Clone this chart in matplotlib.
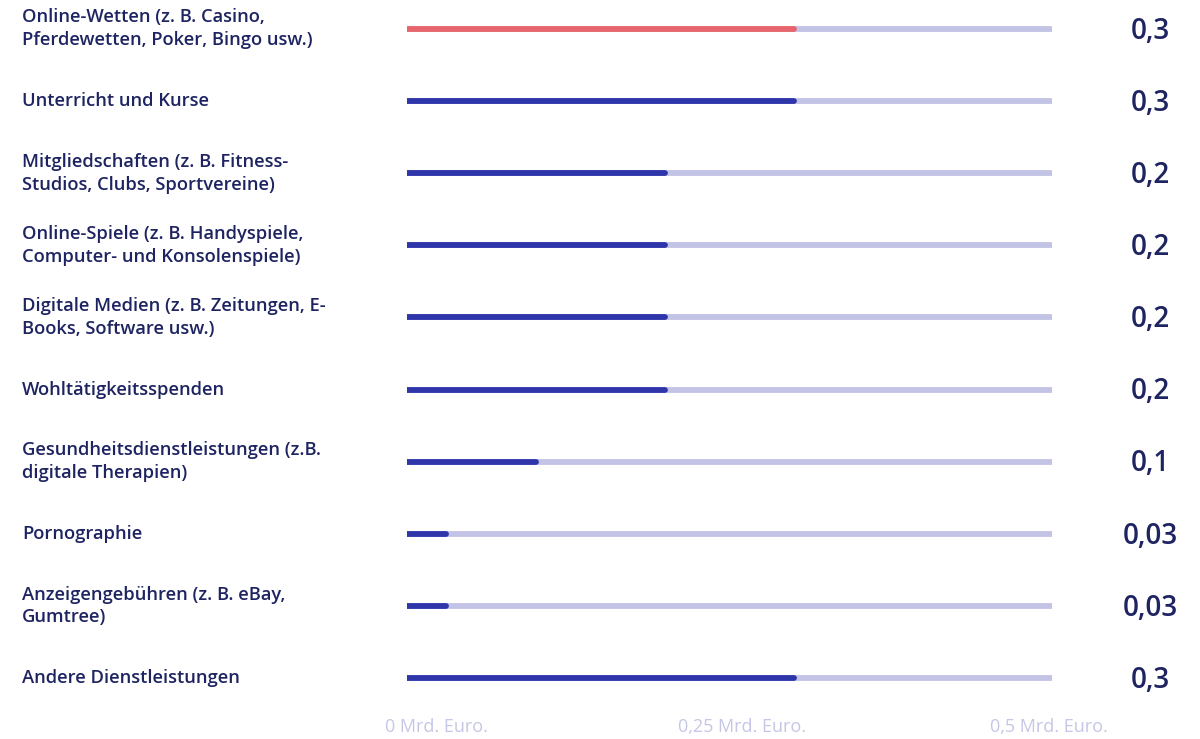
import matplotlib
matplotlib.use('Agg')
import matplotlib.pyplot as plt
from matplotlib.transforms import blended_transform_factory

plt.rcParams['font.family'] = ['Open Sans', 'DejaVu Sans']

categories = [
    'Online-Wetten (z. B. Casino,\nPferdewetten, Poker, Bingo usw.)',
    'Unterricht und Kurse',
    'Mitgliedschaften (z. B. Fitness-\nStudios, Clubs, Sportvereine)',
    'Online-Spiele (z. B. Handyspiele,\nComputer- und Konsolenspiele)',
    'Digitale Medien (z. B. Zeitungen, E-\nBooks, Software usw.)',
    'Wohltätigkeitsspenden',
    'Gesundheitsdienstleistungen (z.B.\ndigitale Therapien)',
    'Pornographie',
    'Anzeigengebühren (z. B. eBay,\nGumtree)',
    'Andere Dienstleistungen',
]
values = [0.3, 0.3, 0.2, 0.2, 0.2, 0.2, 0.1, 0.03, 0.03, 0.3]
value_labels = ['0,3', '0,3', '0,2', '0,2', '0,2', '0,2', '0,1', '0,03', '0,03', '0,3']
axis_max = 0.5
tick_values = [0, 0.25, 0.5]
tick_labels = ['0 Mrd. Euro.', '0,25 Mrd. Euro.', '0,5 Mrd. Euro.']
highlight = 0

navy = '#1e2461'
track = '#c3c3e5'
bar_blue = '#2f36a9'
bar_red = '#e8656d'

fig = plt.figure(figsize=(12, 7.39), dpi=100)
ax = fig.add_axes([0.339, 0.0433, 0.5375, 0.9567])
ax.set_xlim(0, axis_max)
ax.set_ylim(len(values) - 1 + 0.4, -0.4)
ax.axis('off')

for i, (cat, v, lab) in enumerate(zip(categories, values, value_labels)):
    # grey track for the full scale, coloured bar on top
    ax.plot([0, axis_max], [i, i], color=track, lw=4.2, solid_capstyle='round', zorder=1)
    ax.plot([0, v], [i, i], color=bar_red if i == highlight else bar_blue,
            lw=4.2, solid_capstyle='round', zorder=2)
    ax.annotate(cat, xy=(0.0183, i), xycoords=('figure fraction', 'data'),
                ha='left', va='center', fontsize=13.2, color=navy, linespacing=1.35,
                fontweight='semibold', annotation_clip=False)
    ax.annotate(lab, xy=(0.9585, i + 0.03), xycoords=('figure fraction', 'data'),
                ha='center', va='center', fontsize=20, color=navy,
                fontweight='semibold', annotation_clip=False)

tick_tr = blended_transform_factory(ax.transData, fig.transFigure)
tick_shift = [0.023, 0.0097, -0.0023]
for t, lab, dx in zip(tick_values, tick_labels, tick_shift):
    ax.text(t + dx, 0.016, lab, transform=tick_tr, ha='center', va='center',
            fontsize=13, color='#c6c6e6', clip_on=False)

fig.savefig('out.png', dpi=100, facecolor='white')
